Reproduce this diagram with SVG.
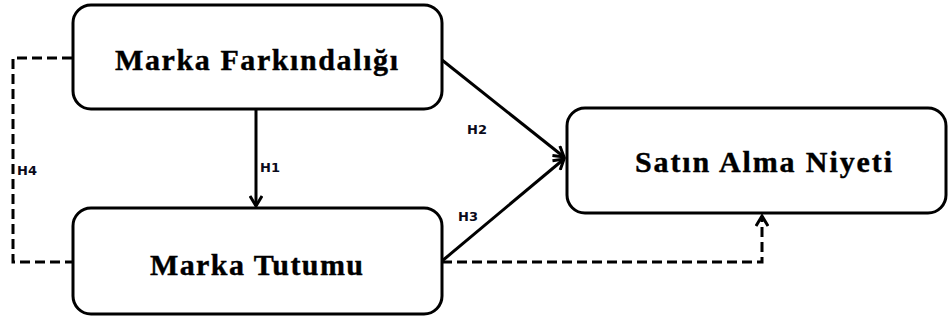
<svg xmlns="http://www.w3.org/2000/svg" width="950" height="321" viewBox="0 0 950 321">
<style>
.box{fill:#fff;stroke:#000;stroke-width:3}
.t{font-family:"Liberation Serif","Times New Roman",serif;font-weight:bold;font-size:30px;fill:#000;stroke:#000;stroke-width:0.4;text-anchor:middle}
.lbl{font-family:"DejaVu Sans",Verdana,sans-serif;font-weight:bold;font-size:13px;fill:#0a0a1a}
.ln{fill:none;stroke:#000;stroke-width:3}
.dash{fill:none;stroke:#000;stroke-width:3;stroke-dasharray:10 5}
</style>
<defs>
<marker id="ah" viewBox="0 0 14 14" refX="12" refY="7" markerWidth="14" markerHeight="14" markerUnits="userSpaceOnUse" orient="auto">
<path d="M2,1 L12,7 L2,13" fill="none" stroke="#000" stroke-width="3"/>
</marker>
</defs>
<g id="connectors">
<line class="ln" x1="256" y1="110" x2="256" y2="206" marker-end="url(#ah)"/>
<line class="ln" x1="442" y1="60" x2="564" y2="157" marker-end="url(#ah)"/>
<line class="ln" x1="442" y1="261" x2="564" y2="159" marker-end="url(#ah)"/>
<polyline class="dash" points="72,58 13,58 13,262 72,262"/>
<polyline class="dash" points="442,262 762,262 762,216" marker-end="url(#ah)"/>
<text class="lbl" x="260" y="172">H1</text>
<text class="lbl" x="467" y="134">H2</text>
<text class="lbl" x="458" y="221">H3</text>
<text class="lbl" x="17" y="175">H4</text>
</g>
<g id="marka-farkindaligi">
<rect class="box" x="73" y="5" width="369" height="104" rx="18"/>
<text class="t" x="256.5" y="70" textLength="283" lengthAdjust="spacing">Marka Farkındalığı</text>
</g>
<g id="marka-tutumu">
<rect class="box" x="73" y="208" width="369" height="106" rx="18"/>
<text class="t" x="256.5" y="275" textLength="213" lengthAdjust="spacing">Marka Tutumu</text>
</g>
<g id="satin-alma-niyeti">
<rect class="box" x="567" y="108" width="379" height="105" rx="18"/>
<text class="t" x="763.5" y="172" textLength="257" lengthAdjust="spacing">Satın Alma Niyeti</text>
</g>
</svg>
